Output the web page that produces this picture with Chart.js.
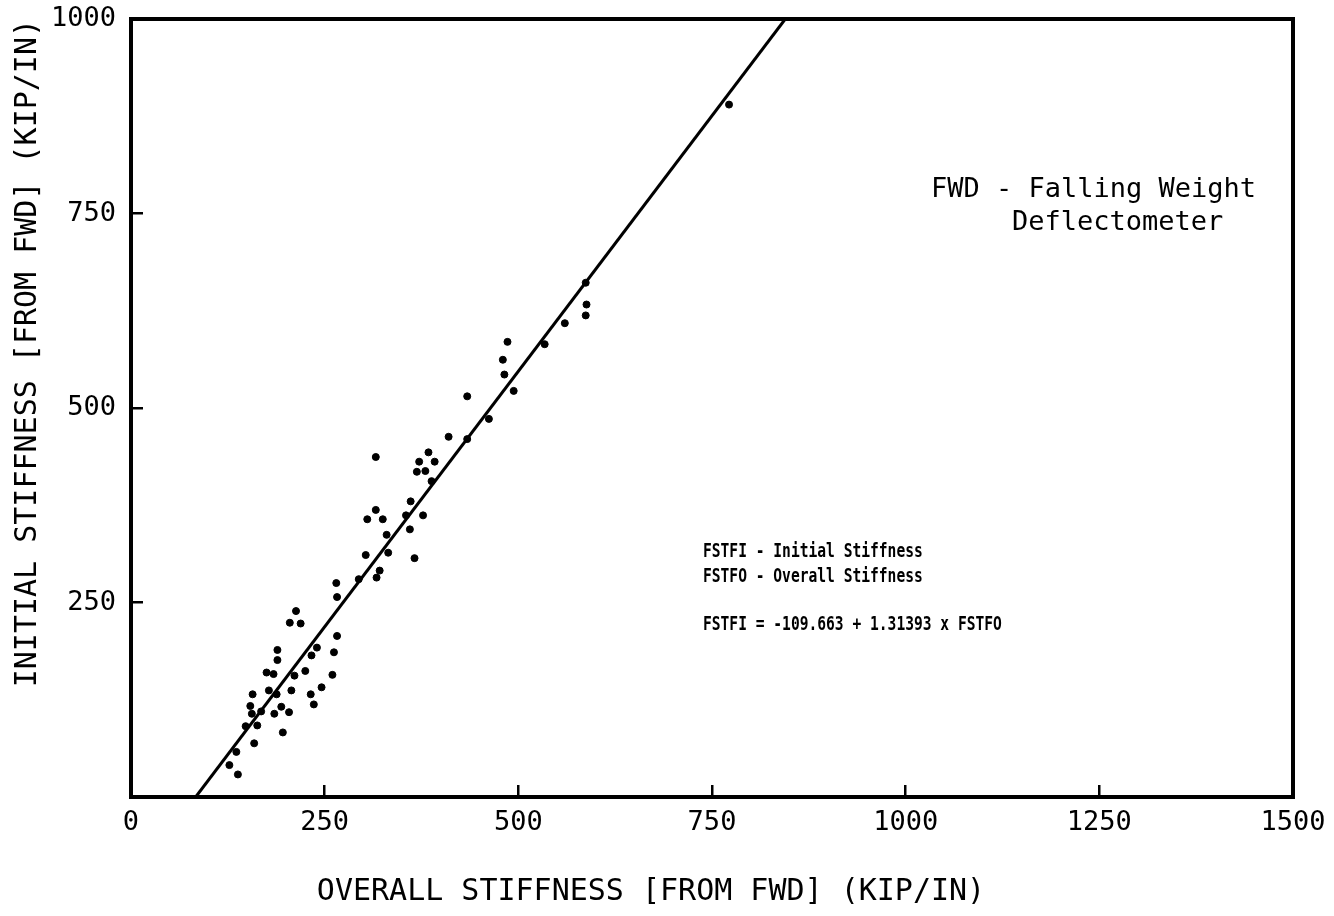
<!DOCTYPE html>
<html lang="en">
<head>
  <meta charset="UTF-8">
  <title>Initial vs Overall Stiffness (FWD)</title>
  <script src="https://cdn.jsdelivr.net/npm/chart.js"></script>
  <style>
    html, body { margin: 0; background: #fff; }
  </style>
</head>
<body>
  <canvas id="stiffChart" width="1334" height="916"></canvas>

  <script>
    // measured points: overall stiffness (x) vs initial stiffness (y), kip/in
    const overallStiffness = [
      127, 138, 136, 159, 148, 163, 156, 154, 157, 168,
      178, 175, 184, 189, 189, 188, 185, 194, 196, 204,
      207, 211, 205, 213, 219, 225, 233, 240, 232, 236,
      246, 260, 262, 266, 265, 266, 294, 317, 321, 303,
      332, 330, 305, 316, 325, 366, 360, 355, 361, 377,
      316, 369, 380, 372, 384, 392, 388, 410, 434, 434,
      462, 494, 482, 480, 486, 534, 560, 587, 588, 587,
      772
    ];
    const initialStiffness = [
      41, 29, 58, 69, 91, 92, 107, 117, 132, 110,
      137, 160, 158, 189, 176, 132, 107, 116, 83, 109,
      137, 156, 224, 239, 223, 162, 182, 192, 132, 119,
      141, 157, 186, 207, 275, 257, 280, 282, 291, 311,
      314, 337, 357, 369, 357, 307, 344, 362, 380, 362,
      437, 418, 419, 431, 443, 431, 406, 463, 460, 515,
      486, 522, 543, 562, 585, 582, 609, 619, 633, 661,
      890
    ];

    // regression line FSTFI = -109.663 + 1.31393 x FSTFO, end points as drawn
    const fitLineX = [83.5, 844.6];
    const fitLineY = [0, 1000];

    const xTickValues = [0, 250, 500, 750, 1000, 1250, 1500];
    const yTickValues = [250, 500, 750, 1000];

    const MONO = '"DejaVu Sans Mono", "Liberation Mono", monospace';

    const scatterPoints = overallStiffness.map((x, i) => ({ x: x, y: initialStiffness[i] }));
    const linePoints = fitLineX.map((x, i) => ({ x: x, y: fitLineY[i] }));

    // keep the plot box where the reference has it: no extra room for label overhang
    function noOverhang(s) {
      s.paddingTop = 0;
      s.paddingBottom = 0;
      s.paddingLeft = 0;
      s.paddingRight = 0;
    }

    // frame, x title and the text notes
    const decorations = {
      id: 'decorations',
      afterDraw(chart) {
        const ctx = chart.ctx;
        const a = chart.chartArea;
        ctx.save();
        ctx.strokeStyle = '#000';
        ctx.lineWidth = 4;
        ctx.strokeRect(a.left, a.top, a.right - a.left, a.bottom - a.top);

        ctx.fillStyle = '#000';
        ctx.textBaseline = 'middle';
        ctx.textAlign = 'center';
        ctx.font = '30px ' + MONO;
        ctx.fillText('OVERALL STIFFNESS [FROM FWD] (KIP/IN)', 651, 892);

        ctx.textAlign = 'left';
        ctx.font = '27px ' + MONO;
        ctx.fillText('FWD - Falling Weight', 931, 190);
        ctx.fillText('Deflectometer', 1012, 223);

        const sx = 0.73;
        ctx.scale(sx, 1);
        ctx.font = 'bold 20px ' + MONO;
        ctx.fillText('FSTFI - Initial Stiffness', 703 / sx, 552);
        ctx.fillText('FSTFO - Overall Stiffness', 703 / sx, 577);
        ctx.fillText('FSTFI = -109.663 + 1.31393 x FSTFO', 703 / sx, 625);
        ctx.restore();
      }
    };

    new Chart(document.getElementById('stiffChart'), {
      type: 'scatter',
      data: {
        datasets: [
          {
            data: scatterPoints,
            backgroundColor: '#000',
            borderColor: '#000',
            pointRadius: 3.5,
            pointHoverRadius: 3.5
          },
          {
            data: linePoints,
            showLine: true,
            borderColor: '#000',
            borderWidth: 3,
            pointRadius: 0,
            fill: false
          }
        ]
      },
      options: {
        responsive: false,
        animation: false,
        layout: { autoPadding: false, padding: { top: 19, right: 41, left: 0, bottom: 0 } },
        plugins: {
          legend: { display: false },
          tooltip: { enabled: false }
        },
        scales: {
          x: {
            type: 'linear',
            min: 0,
            max: 1500,
            afterBuildTicks: s => { s.ticks = xTickValues.map(v => ({ value: v })); },
            afterFit: s => { s.height = 119; noOverhang(s); },
            border: { display: false },
            grid: { drawOnChartArea: false, drawTicks: true, tickLength: -12, color: '#000', lineWidth: 2.5 },
            ticks: {
              color: '#000',
              font: { family: MONO, size: 27 },
              padding: 22,
              maxRotation: 0,
              callback: v => String(v)
            }
          },
          y: {
            type: 'linear',
            min: 0,
            max: 1000,
            afterBuildTicks: s => { s.ticks = yTickValues.map(v => ({ value: v })); },
            afterFit: s => { s.width = 131; noOverhang(s); },
            border: { display: false },
            grid: { drawOnChartArea: false, drawTicks: true, tickLength: -12, color: '#000', lineWidth: 2.5 },
            ticks: {
              color: '#000',
              font: { family: MONO, size: 27 },
              padding: 27,
              callback: v => String(v)
            },
            title: {
              display: true,
              text: 'INITIAL STIFFNESS [FROM FWD] (KIP/IN)',
              align: 'end',
              color: '#000',
              font: { family: MONO, size: 30 },
              padding: { top: 10, bottom: 0 }
            }
          }
        }
      },
      plugins: [decorations]
    });
  </script>
</body>
</html>
